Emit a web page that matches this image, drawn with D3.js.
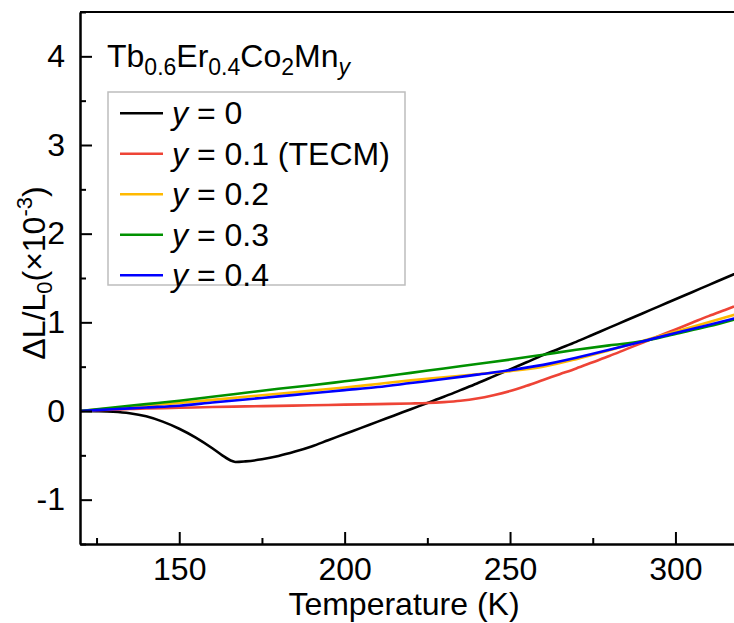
<!DOCTYPE html>
<html>
<head>
<meta charset="utf-8">
<script src="https://cdn.jsdelivr.net/npm/d3@7"></script>
<style>
  html, body { margin: 0; padding: 0; background: #fff; }
  svg { display: block; font-family: "Liberation Sans", Arial, sans-serif; }
</style>
</head>
<body>
<svg id="chart" width="734" height="623"></svg>
<script>
// Thermal expansion ΔL/L0 (×10^-3) of Tb0.6Er0.4Co2Mn_y versus temperature

const seriesNames = ["y = 0", "y = 0.1 (TECM)", "y = 0.2", "y = 0.3", "y = 0.4"];
const seriesColors = ["#000000", "#ee4436", "#ffb900", "#009100", "#0000ff"];

const tempY0 = [120,125,130,135,140,145,150,155,160,163,166,167,170,175,180,185,190,195,200,205,210,215,220,225,230,235,240,245,250,255,260,265,270,275,280,285,290,295,300,305,310,315,320];
const valY0  = [0,-0.002,-0.008,-0.025,-0.06,-0.12,-0.2,-0.3,-0.42,-0.5,-0.565,-0.575,-0.568,-0.545,-0.508,-0.458,-0.4,-0.33,-0.26,-0.19,-0.12,-0.05,0.02,0.09,0.16,0.235,0.31,0.39,0.47,0.55,0.63,0.705,0.78,0.86,0.94,1.02,1.1,1.18,1.26,1.34,1.42,1.5,1.58];

const tempY01 = [120,125,130,135,140,145,150,160,170,180,190,200,210,220,225,230,235,240,245,250,255,260,265,270,275,280,285,290,295,300,305,310,315,320];
const valY01  = [0,0.008,0.015,0.022,0.028,0.032,0.036,0.045,0.052,0.058,0.064,0.072,0.078,0.085,0.09,0.1,0.115,0.14,0.178,0.225,0.285,0.35,0.415,0.48,0.55,0.62,0.695,0.77,0.845,0.92,0.995,1.07,1.14,1.21];

const tempGrid = [120,130,140,150,160,170,180,190,200,210,220,230,240,250,260,270,280,290,300,310,320];
const valY02 = [0,0.03,0.06,0.09,0.125,0.16,0.195,0.23,0.265,0.305,0.345,0.38,0.415,0.45,0.5,0.585,0.685,0.79,0.895,1.0,1.11];
const valY03 = [0,0.04,0.078,0.116,0.16,0.205,0.25,0.29,0.335,0.38,0.43,0.48,0.53,0.58,0.635,0.69,0.74,0.785,0.87,0.955,1.055];
const valY04 = [0,0.02,0.04,0.06,0.095,0.13,0.165,0.2,0.235,0.27,0.315,0.36,0.41,0.46,0.52,0.6,0.69,0.785,0.88,0.97,1.065];

const xMajorTicks = [150, 200, 250, 300];
const xMinorTicks = [125, 175, 225, 275, 325];
const yMajorTicks = [-1, 0, 1, 2, 3, 4];
const yMinorTicks = [-1.5, -0.5, 0.5, 1.5, 2.5, 3.5, 4.5];

const series = [
  { temps: tempY0,   vals: valY0 },
  { temps: tempY01,  vals: valY01 },
  { temps: tempGrid, vals: valY02 },
  { temps: tempGrid, vals: valY03 },
  { temps: tempGrid, vals: valY04 }
].map((s, i) => ({ name: seriesNames[i], color: seriesColors[i],
  points: s.temps.map((t, j) => [t, s.vals[j]]) }));

const svg = d3.select("#chart");
const plotLeft = 80, plotTop = 12, plotBottom = 544, plotRight = 741.6;

const x = d3.scaleLinear().domain([120, 320]).range([plotLeft, plotRight]);
const y = d3.scaleLinear().domain([-1.5, 4.5]).range([plotBottom, plotTop]);

svg.append("defs").append("clipPath").attr("id", "plot-clip")
  .append("rect").attr("x", plotLeft).attr("y", plotTop)
  .attr("width", plotRight - plotLeft).attr("height", plotBottom - plotTop);

// curves
const line = d3.line().x(d => x(d[0])).y(d => y(d[1])).curve(d3.curveMonotoneX);
const curves = svg.append("g").attr("clip-path", "url(#plot-clip)");
series.forEach(s => {
  curves.append("path").datum(s.points)
    .attr("fill", "none").attr("stroke", s.color)
    .attr("stroke-width", 2.6).attr("stroke-linejoin", "round")
    .attr("d", line);
});

// axes (ticks point inward)
const fontSize = 32;
svg.append("g").attr("transform", `translate(0,${plotBottom})`)
  .call(d3.axisBottom(x).tickValues(xMajorTicks).tickSizeInner(-12).tickSizeOuter(0).tickPadding(13));
svg.append("g").attr("transform", `translate(0,${plotBottom})`)
  .call(d3.axisBottom(x).tickValues(xMinorTicks).tickSizeInner(-6).tickSizeOuter(0).tickFormat(""));
svg.append("g").attr("transform", `translate(${plotLeft},0)`)
  .call(d3.axisLeft(y).tickValues(yMajorTicks).tickSizeInner(-12).tickSizeOuter(0).tickPadding(15)
    .tickFormat(d => d < 0 ? "-" + Math.abs(d) : String(d)));
svg.append("g").attr("transform", `translate(${plotLeft},0)`)
  .call(d3.axisLeft(y).tickValues(yMinorTicks).tickSizeInner(-6).tickSizeOuter(0).tickFormat(""));

svg.selectAll(".domain").attr("stroke", "#000").attr("stroke-width", 2);
svg.selectAll(".tick line").attr("stroke", "#000").attr("stroke-width", 2);
svg.selectAll(".tick text").attr("font-size", fontSize).attr("fill", "#000")
  .attr("font-family", "Liberation Sans, Arial, sans-serif");

// top spine
svg.append("line").attr("x1", plotLeft).attr("x2", plotRight).attr("y1", plotTop).attr("y2", plotTop)
  .attr("stroke", "#000").attr("stroke-width", 2);

// axis titles
svg.append("text").attr("x", 404).attr("y", 615).attr("text-anchor", "middle")
  .attr("font-size", fontSize).text("Temperature (K)");

const yTitle = svg.append("text").attr("transform", "translate(45,273) rotate(-90)")
  .attr("text-anchor", "middle").attr("font-size", fontSize);
yTitle.append("tspan").text("ΔL/L");
yTitle.append("tspan").attr("font-size", 22).attr("dy", 7).text("0");
yTitle.append("tspan").attr("dy", -7).text("(×10");
yTitle.append("tspan").attr("font-size", 22).attr("dy", -13).text("-3");
yTitle.append("tspan").attr("dy", 13).text(")");

// composition label
const comp = svg.append("text").attr("x", 107).attr("y", 67).attr("font-size", fontSize);
const compParts = [["Tb", 0], ["0.6", 1], ["Er", 0], ["0.4", 1], ["Co", 0], ["2", 1], ["Mn", 0], ["y", 2]];
let shift = 0;
compParts.forEach(([t, kind]) => {
  const target = kind ? 8 : 0;
  const ts = comp.append("tspan").attr("dy", target - shift).text(t);
  if (kind) ts.attr("font-size", 23);
  if (kind === 2) ts.attr("font-style", "italic");
  shift = target;
});

// legend
const legend = svg.append("g");
legend.append("rect").attr("x", 108).attr("y", 92).attr("width", 297).attr("height", 193)
  .attr("fill", "#fff").attr("stroke", "#bdbdbd").attr("stroke-width", 1.5);
series.forEach((s, i) => {
  const cy = 113.3 + i * 40.5;
  legend.append("line").attr("x1", 120).attr("x2", 163).attr("y1", cy).attr("y2", cy)
    .attr("stroke", s.color).attr("stroke-width", 2.6);
  const t = legend.append("text").attr("x", 172).attr("y", cy + 11).attr("font-size", 32);
  const m = s.name.match(/^y = (.*)$/);
  t.append("tspan").attr("font-style", "italic").text("y");
  t.append("tspan").text(" = " + m[1]);
});
</script>
</body>
</html>
